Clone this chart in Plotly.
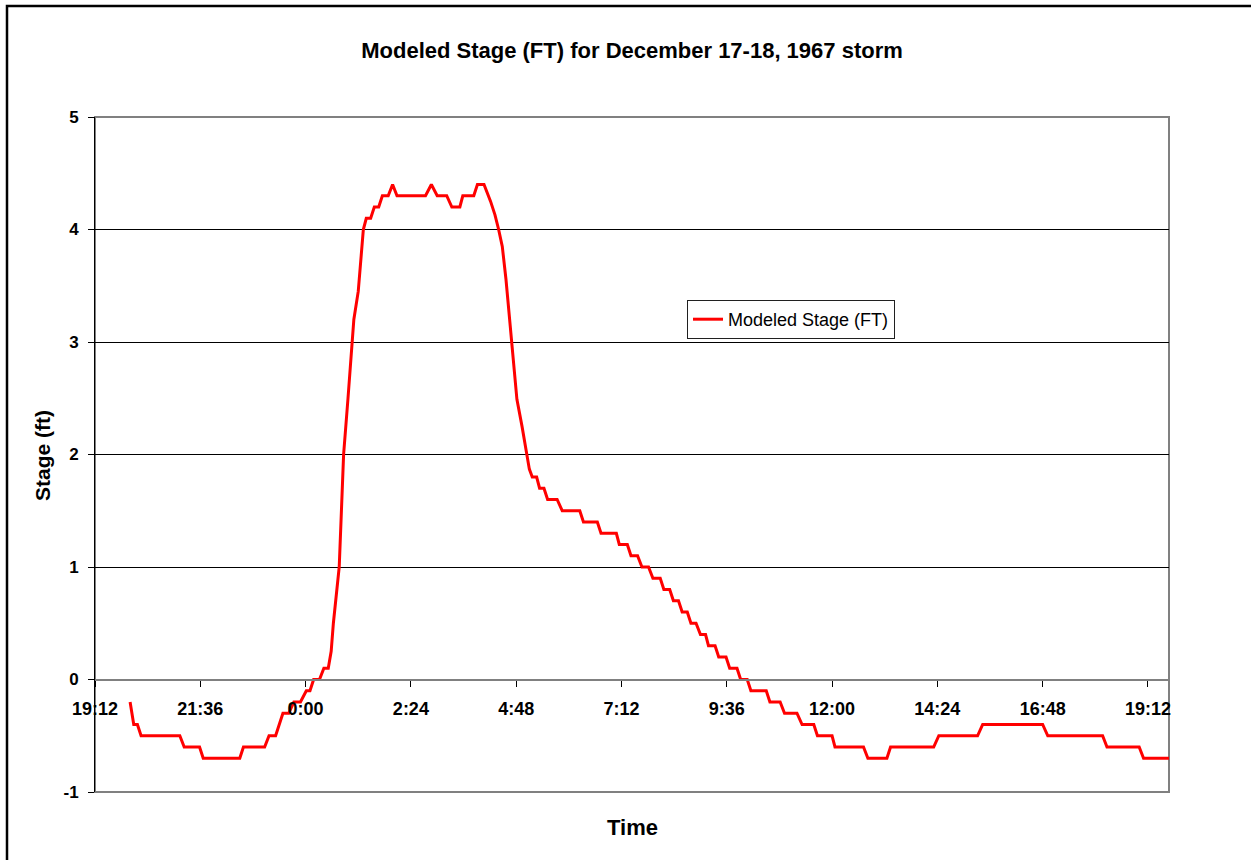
import plotly.graph_objects as go

# ---- data (vertices) ----
times = [
    "1967-12-17 20:00", "1967-12-17 20:05", "1967-12-17 20:10", "1967-12-17 20:15",
    "1967-12-17 21:08", "1967-12-17 21:14", "1967-12-17 21:35", "1967-12-17 21:40",
    "1967-12-17 22:30", "1967-12-17 22:35", "1967-12-17 23:04", "1967-12-17 23:10",
    "1967-12-17 23:19", "1967-12-17 23:24", "1967-12-17 23:29", "1967-12-17 23:37",
    "1967-12-17 23:44", "1967-12-17 23:53",
    "1967-12-18 00:01", "1967-12-18 00:06", "1967-12-18 00:11", "1967-12-18 00:19",
    "1967-12-18 00:25", "1967-12-18 00:31", "1967-12-18 00:35", "1967-12-18 00:38",
    "1967-12-18 00:42", "1967-12-18 00:46", "1967-12-18 00:49", "1967-12-18 00:52",
    "1967-12-18 00:58", "1967-12-18 01:03", "1967-12-18 01:06", "1967-12-18 01:12",
    "1967-12-18 01:17", "1967-12-18 01:19", "1967-12-18 01:23", "1967-12-18 01:29",
    "1967-12-18 01:34", "1967-12-18 01:40", "1967-12-18 01:45", "1967-12-18 01:53",
    "1967-12-18 01:59", "1967-12-18 02:05", "1967-12-18 02:44", "1967-12-18 02:52",
    "1967-12-18 03:00", "1967-12-18 03:13", "1967-12-18 03:20", "1967-12-18 03:31",
    "1967-12-18 03:35", "1967-12-18 03:50", "1967-12-18 03:55", "1967-12-18 04:04",
    "1967-12-18 04:13", "1967-12-18 04:19", "1967-12-18 04:24", "1967-12-18 04:29",
    "1967-12-18 04:34", "1967-12-18 04:39", "1967-12-18 04:41", "1967-12-18 04:44",
    "1967-12-18 04:49", "1967-12-18 04:56", "1967-12-18 05:03", "1967-12-18 05:06",
    "1967-12-18 05:10", "1967-12-18 05:16", "1967-12-18 05:20", "1967-12-18 05:26",
    "1967-12-18 05:31", "1967-12-18 05:44", "1967-12-18 05:51", "1967-12-18 06:15",
    "1967-12-18 06:20", "1967-12-18 06:39", "1967-12-18 06:44", "1967-12-18 07:05",
    "1967-12-18 07:09", "1967-12-18 07:20", "1967-12-18 07:25", "1967-12-18 07:34",
    "1967-12-18 07:40", "1967-12-18 07:49", "1967-12-18 07:55", "1967-12-18 08:05",
    "1967-12-18 08:10", "1967-12-18 08:18", "1967-12-18 08:23", "1967-12-18 08:30",
    "1967-12-18 08:35", "1967-12-18 08:42", "1967-12-18 08:47", "1967-12-18 08:54",
    "1967-12-18 09:00", "1967-12-18 09:07", "1967-12-18 09:11", "1967-12-18 09:20",
    "1967-12-18 09:25", "1967-12-18 09:35", "1967-12-18 09:40", "1967-12-18 09:50",
    "1967-12-18 09:55", "1967-12-18 10:04", "1967-12-18 10:09", "1967-12-18 10:30",
    "1967-12-18 10:35", "1967-12-18 10:49", "1967-12-18 10:55", "1967-12-18 11:12",
    "1967-12-18 11:19", "1967-12-18 11:35", "1967-12-18 11:40", "1967-12-18 12:00",
    "1967-12-18 12:04", "1967-12-18 12:43", "1967-12-18 12:49", "1967-12-18 13:15",
    "1967-12-18 13:20", "1967-12-18 14:19", "1967-12-18 14:26", "1967-12-18 15:19",
    "1967-12-18 15:26", "1967-12-18 16:48", "1967-12-18 16:55", "1967-12-18 18:10",
    "1967-12-18 18:16", "1967-12-18 19:00", "1967-12-18 19:06", "1967-12-18 19:45",
]
stage_ft = [
    -0.2, -0.4, -0.4, -0.5,
    -0.5, -0.6, -0.6, -0.7,
    -0.7, -0.6, -0.6, -0.5,
    -0.5, -0.4, -0.3, -0.3,
    -0.2, -0.2,
    -0.1, -0.1, 0.0, 0.0,
    0.1, 0.1, 0.25, 0.5,
    0.75, 1.0, 1.5, 2.0,
    2.5, 3.0, 3.2, 3.45,
    3.8, 4.0, 4.1, 4.1,
    4.2, 4.2, 4.3, 4.3,
    4.4, 4.3, 4.3, 4.4,
    4.3, 4.3, 4.2, 4.2,
    4.3, 4.3, 4.4, 4.4,
    4.25, 4.13, 4.0, 3.85,
    3.56, 3.2, 3.0, 2.79,
    2.49, 2.25, 1.98, 1.87,
    1.8, 1.8, 1.7, 1.7,
    1.6, 1.6, 1.5, 1.5,
    1.4, 1.4, 1.3, 1.3,
    1.2, 1.2, 1.1, 1.1,
    1.0, 1.0, 0.9, 0.9,
    0.8, 0.8, 0.7, 0.7,
    0.6, 0.6, 0.5, 0.5,
    0.4, 0.4, 0.3, 0.3,
    0.2, 0.2, 0.1, 0.1,
    0.0, 0.0, -0.1, -0.1,
    -0.2, -0.2, -0.3, -0.3,
    -0.4, -0.4, -0.5, -0.5,
    -0.6, -0.6, -0.7, -0.7,
    -0.6, -0.6, -0.5, -0.5,
    -0.4, -0.4, -0.5, -0.5,
    -0.6, -0.6, -0.7, -0.7,
]

series_name = "Modeled Stage (FT)"
chart_title = "Modeled Stage (FT) for December 17-18, 1967 storm"
x_title = "Time"
y_title = "Stage (ft)"
x_range = ["1967-12-17 19:12", "1967-12-18 19:40:48"]
x_tick0 = "1967-12-17 19:12"
x_dtick_ms = 2.4 * 3600 * 1000
y_range = [-1, 5]
y_tickvals = [-1, 0, 1, 2, 3, 4, 5]
y_ticktext = ["-1", "0", "1", "2", "3", "4", "5"]

FONT = "Arial, Liberation Sans, sans-serif"
W, H = 1251, 860
L, R, T, B = 95, 82, 117, 68
PW, PH = W - L - R, H - T - B


def px_x(px):
    return (px - L) / PW


def px_y(py):
    return (H - B - py) / PH


fig = go.Figure()
fig.add_trace(go.Scatter(
    x=times, y=stage_ft, mode="lines", name=series_name,
    line=dict(color="#FF0000", width=3),
))

fig.update_layout(
    width=W, height=H,
    margin=dict(l=L, r=R, t=T, b=B),
    paper_bgcolor="white", plot_bgcolor="white",
    font=dict(family=FONT, color="black"),
    title=dict(text=chart_title, x=0.5, xref="paper", xanchor="center",
               y=1 - 50 / H, yref="container", yanchor="middle",
               font=dict(size=22, weight="bold", family=FONT, color="black")),
    showlegend=True,
    legend=dict(x=px_x(687), y=px_y(300), xanchor="left", yanchor="top",
                bgcolor="white", bordercolor="#202020", borderwidth=1,
                entrywidth=168,
                font=dict(size=18, family=FONT, color="black")),
    xaxis=dict(
        type="date", range=x_range, anchor="free", position=1 / 6,
        tick0=x_tick0, dtick=x_dtick_ms, tickformat="%-H:%M",
        ticks="outside", ticklen=6, tickcolor="black", tickwidth=1,
        showline=True, linecolor="#808080", linewidth=2,
        showgrid=False, zeroline=False,
        ticklabelstandoff=7,
        tickfont=dict(size=18, weight="bold", family=FONT, color="black"),
    ),
    yaxis=dict(
        range=y_range, tickvals=y_tickvals, ticktext=y_ticktext,
        ticks="outside", ticklen=6, tickcolor="black", tickwidth=1,
        showline=True, linecolor="black", linewidth=1,
        showgrid=True, gridcolor="black", gridwidth=1, zeroline=False,
        ticklabelstandoff=6,
        tickfont=dict(size=17, weight="bold", family=FONT, color="black"),
    ),
    annotations=[
        dict(text=x_title, xref="paper", yref="paper", x=0.5, y=px_y(828),
             xanchor="center", yanchor="middle", showarrow=False,
             font=dict(size=22, weight="bold", family=FONT, color="black")),
        dict(text=y_title, xref="paper", yref="paper", x=px_x(42), y=px_y(455),
             xanchor="center", yanchor="middle", showarrow=False, textangle=-90,
             font=dict(size=21, weight="bold", family=FONT, color="black")),
    ],
    shapes=[
        dict(type="rect", xref="paper", yref="paper", x0=0, x1=1, y0=0, y1=1,
             line=dict(color="#808080", width=2), layer="below"),
        dict(type="rect", xref="paper", yref="paper",
             x0=px_x(7), x1=px_x(W + 20), y0=px_y(H + 20), y1=px_y(6),
             line=dict(color="black", width=2.5)),
    ],
)

fig.write_html(
    "out.html",
    config={"displayModeBar": False},
    post_script="document.body.style.margin='0';document.body.style.overflow='hidden';",
)
